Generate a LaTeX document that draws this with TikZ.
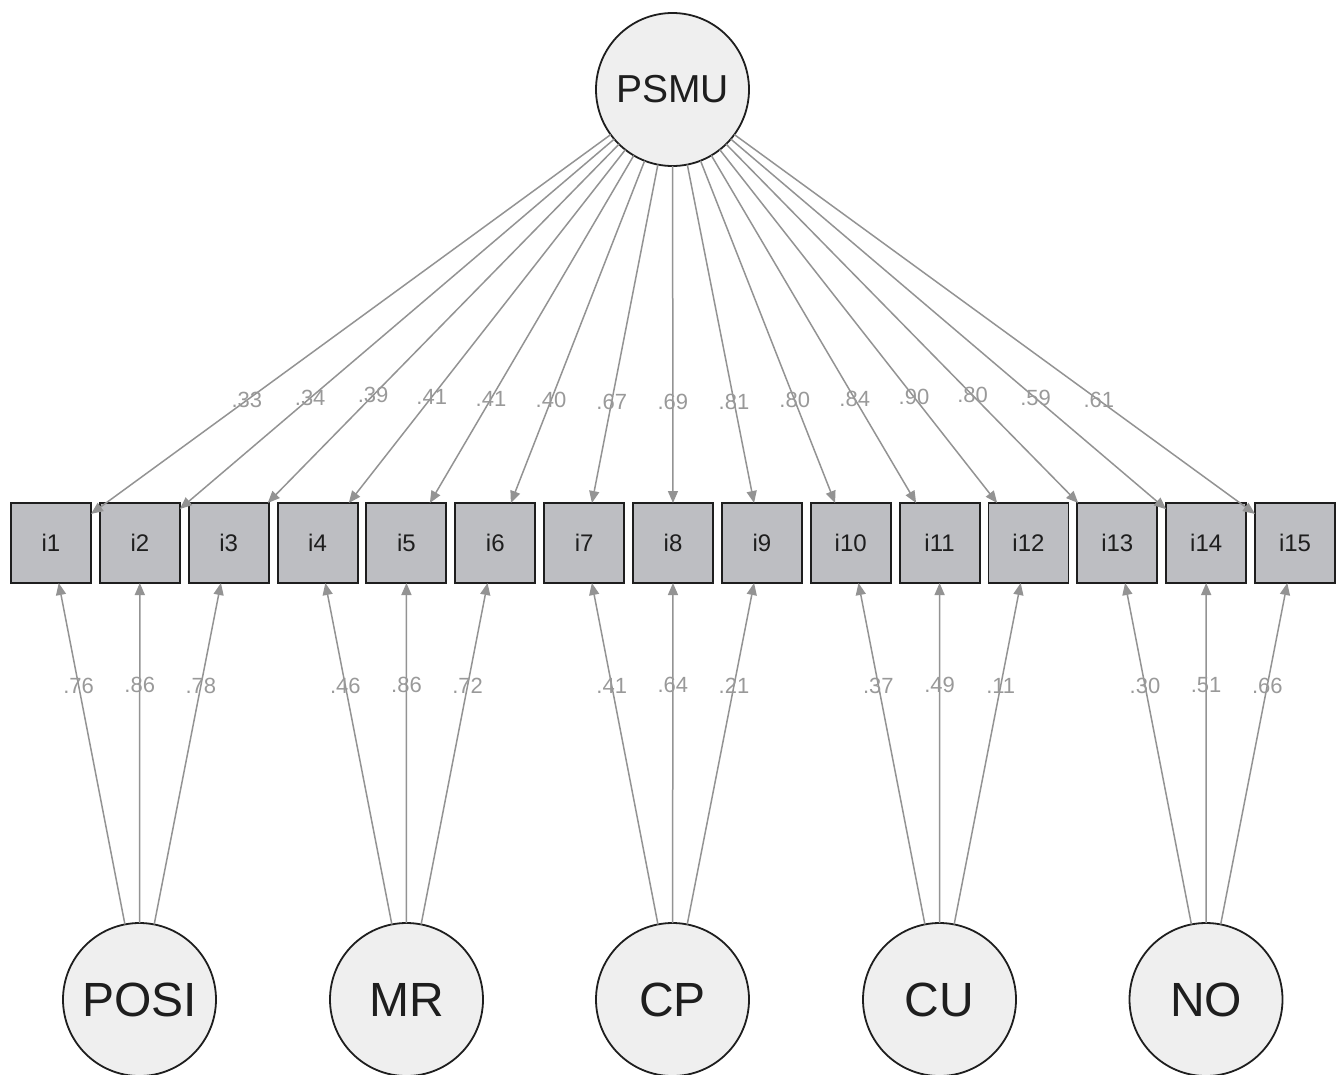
\documentclass[tikz,border=0pt]{standalone}
\usepackage{fontspec}
\setmainfont{Liberation Sans}
\usetikzlibrary{arrows.meta}
\definecolor{edgegray}{HTML}{939393}
\definecolor{labgray}{HTML}{999999}
\definecolor{boxgray}{HTML}{BDBEC2}
\definecolor{latfill}{HTML}{EFEFEF}
\definecolor{bord}{HTML}{1E1E1E}
\begin{document}
\begin{tikzpicture}[x=1pt,y=-1pt,
  latent/.style={circle,draw=bord,line width=1.8pt,fill=latfill,minimum size=153pt,inner sep=0pt,outer sep=0pt},
  topfont/.style={font=\fontsize{39}{39}\selectfont},
  botfont/.style={font=\fontsize{48}{48}\selectfont},
  manifest/.style={rectangle,draw=bord,line width=1.9pt,fill=boxgray,minimum size=80pt,inner sep=0pt,outer sep=0pt,font=\fontsize{24}{24}\selectfont,text=bord},
  edge/.style={draw=edgegray,line width=1.5pt,-{Triangle[length=12pt,width=10pt]}},
  lab/.style={pos=0.7,text=labgray,inner sep=0pt,font=\fontsize{22}{22}\selectfont}
]
\useasboundingbox (0,0) rectangle (1337,1074);
\node[latent,topfont,text=bord] (PSMU) at (672.5,89.5) {PSMU};
\foreach \n in {1,...,15}{
  \node[manifest] (i\n) at ({51+(\n-1)*88.86},543) {i\n};
}
\node[latent,botfont,text=bord] (POSI) at (139.5,999.5) {POSI};
\node[latent,botfont,text=bord] (MR) at (406.5,999.5) {MR};
\node[latent,botfont,text=bord] (CP) at (672.5,999.5) {CP};
\node[latent,botfont,text=bord] (CU) at (939.5,999.5) {CU};
\node[latent,botfont,text=bord] (NO) at (1206,999.5) {NO};
\foreach \n/\v in {1/.33,2/.34,3/.39,4/.41,5/.41,6/.40,7/.67,8/.69,9/.81,10/.80,11/.84,12/.90,13/.80,14/.59,15/.61}{
  \draw[edge] (PSMU) -- node[lab]{\v} (i\n);
}
\foreach \f/\n/\v in {POSI/1/.76,POSI/2/.86,POSI/3/.78,MR/4/.46,MR/5/.86,MR/6/.72,CP/7/.41,CP/8/.64,CP/9/.21,CU/10/.37,CU/11/.49,CU/12/.11,NO/13/.30,NO/14/.51,NO/15/.66}{
  \draw[edge] (\f) -- node[lab]{\v} (i\n);
}
\end{tikzpicture}
\end{document}
